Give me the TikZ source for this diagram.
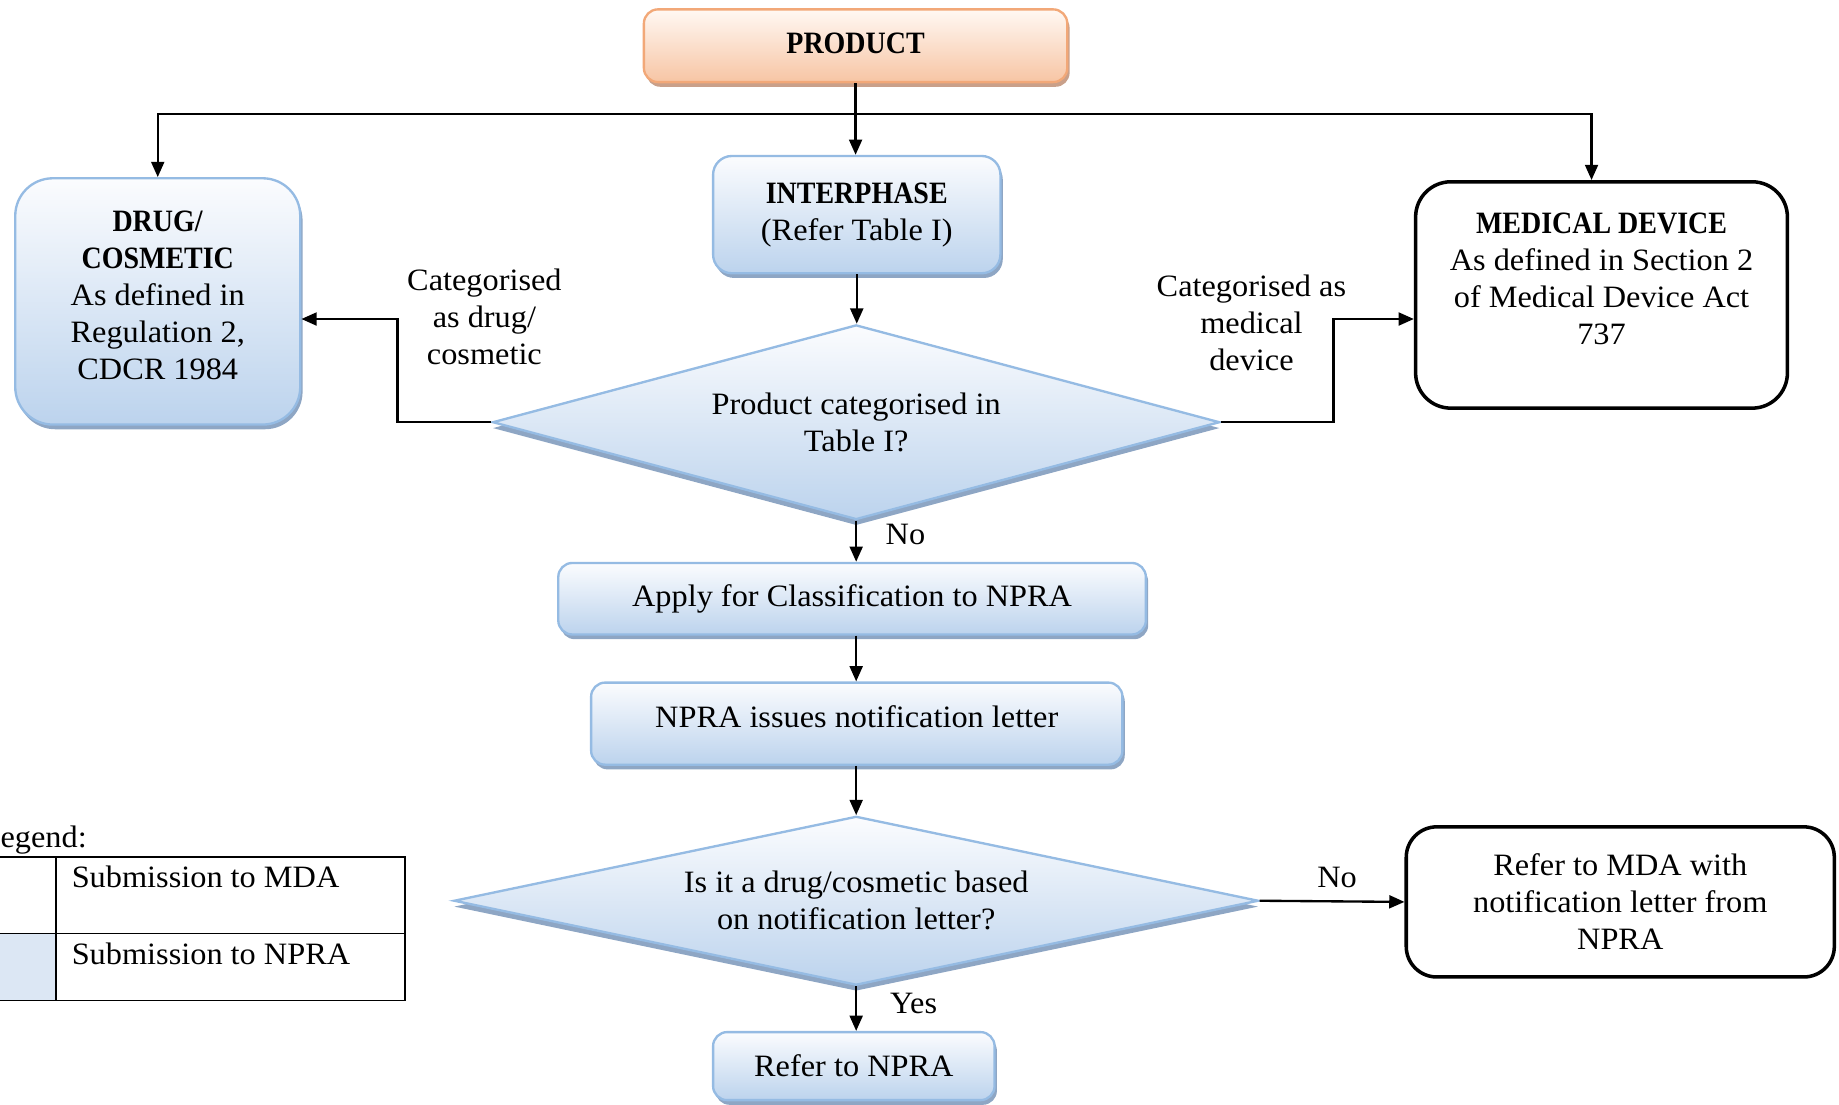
\documentclass[tikz,border=0pt]{standalone}
\usepackage{fontspec}
\setmainfont{Liberation Serif}[FakeStretch=1.04,BoldFeatures={FakeStretch=0.9}]
\usetikzlibrary{shapes.geometric,arrows.meta,shadows}
\definecolor{bluetop}{HTML}{FBFCFE}
\definecolor{bluebot}{HTML}{BCD3ED}
\definecolor{blueedge}{HTML}{95BBE3}
\definecolor{blueshadow}{HTML}{8EA6C4}
\definecolor{orangetop}{HTML}{FFF8F3}
\definecolor{orangebot}{HTML}{F7C5A4}
\definecolor{orangeedge}{HTML}{F2A878}
\definecolor{orangeshadow}{HTML}{C9A08A}
\definecolor{legendblue}{HTML}{DCE7F4}
\begin{document}
\begin{tikzpicture}[x=1pt,y=-1pt,
  every node/.style={font=\fontsize{26.5}{31.5}\selectfont},
  bluebox/.style={draw=blueedge, line width=2pt, top color=bluetop, bottom color=bluebot,
    drop shadow={shadow xshift=2pt,shadow yshift=-4pt,fill=blueshadow,opacity=1},
    align=center, inner sep=0pt},
  orangebox/.style={draw=orangeedge, line width=2pt, top color=orangetop, bottom color=orangebot,
    drop shadow={shadow xshift=2pt,shadow yshift=-4pt,fill=orangeshadow,opacity=1},
    align=center, inner sep=0pt, rounded corners=12pt},
  bluediamond/.style={diamond, draw=blueedge, line width=2pt, top color=bluetop, bottom color=bluebot,
    drop shadow={shadow xshift=0pt,shadow yshift=-5pt,fill=blueshadow,opacity=1},
    align=center, inner sep=0pt},
  blackbox/.style={draw=black, line width=3pt, fill=white, align=center, inner sep=0pt},
  txt/.style={align=center, inner sep=0pt},
  arr/.style={line width=2pt, -{Triangle[length=13pt,width=11pt]}}
]
\clip (0,0) rectangle (1568,942);

% nodes
\node[orangebox, minimum width=361pt, minimum height=62pt] (prod) at (729.5,39) {};
\node[txt] (prodt) at ([yshift=2pt]prod.center) {\textbf{PRODUCT}};
\node[bluebox, rounded corners=16pt, minimum width=245pt, minimum height=100pt] (inter) at (730.5,183)
  {\textbf{INTERPHASE}\\(Refer Table I)};
\node[bluebox, rounded corners=32pt, minimum width=243pt, minimum height=210pt] (drug) at (134.5,257) {};
\node[txt] (drugt) at ([yshift=5pt]drug.center)
  {\textbf{DRUG/}\\\textbf{COSMETIC}\\As defined in\\Regulation 2,\\CDCR 1984};
\node[blackbox, rounded corners=30pt, minimum width=317pt, minimum height=193pt] (med) at (1365.5,251.5) {};
\node[txt] (medt) at ([yshift=14pt]med.center)
  {\textbf{MEDICAL DEVICE}\\As defined in Section 2\\of Medical Device Act\\737};
\node[bluediamond, aspect=3.735, minimum width=620pt, minimum height=166pt] (d1) at (730,360)
  {Product categorised in\\Table I?};
\node[txt] (cat1) at (413,270) {Categorised\\as drug/\\cosmetic};
\node[txt] (cat2) at (1067,275) {Categorised as\\medical\\device};
\node[bluebox, rounded corners=12pt, minimum width=501pt, minimum height=61pt] (apply) at (726.5,510.5)
  {Apply for Classification to NPRA};
\node[bluebox, rounded corners=12pt, minimum width=453pt, minimum height=70pt] (npra) at (730.5,617) {};
\node[txt] (npratxt) at ([yshift=6pt]npra.center) {NPRA issues notification letter};
\node[bluediamond, aspect=4.76, minimum width=686pt, minimum height=144pt] (d2) at (730,768)
  {Is it a drug/cosmetic based\\on notification letter?};
\node[blackbox, rounded corners=26pt, minimum width=365pt, minimum height=128pt] (mda) at (1381.5,769)
  {Refer to MDA with\\notification letter from\\NPRA};
\node[bluebox, rounded corners=12pt, minimum width=240pt, minimum height=58pt] (refer) at (728,909)
  {Refer to NPRA};
\node[txt] (no1) at (772,456) {No};
\node[txt] (no2) at (1140,748) {No};
\node[txt] (yes) at (779,856) {Yes};

% connectors
\coordinate (jn) at (729.5,97);
\draw[arr] (prod.south) -- (prod.south |- inter.north);
\draw[arr] (jn) -| (drug.north);
\draw[arr] (jn) -| ([xshift=-8.5pt]med.north);
\draw[arr] (inter.south) -- (inter.south |- d1.north);
\draw[arr] (d1.west) -- ++(-80,0) |- ([yshift=-15pt]drug.east);
\draw[arr] (d1.east) -- ++(96,0) |- ([yshift=-20.5pt]med.west);
\draw[arr] (d1.south) -- (d1.south |- apply.north);
\draw[arr] (apply.south -| d1.south) -- (npra.north -| d1.south);
\draw[arr] (npra.south -| d1.south) -- (d2.north);
\draw[arr] (d2.east) -- (mda.west);
\draw[arr] (d2.south) -- (d2.south |- refer.north);

% legend
\node[anchor=base west, inner sep=0pt] (legend) at (-16.5,723) {Legend:};
\fill[legendblue] (-20,796) rectangle (48,853);
\draw[line width=1.5pt] (-20,731) rectangle (345,853);
\draw[line width=1.5pt] (-20,796) -- (345,796);
\draw[line width=1.5pt] (48,731) -- (48,853);
\node[anchor=west, inner sep=0pt] (l1) at (61,748) {Submission to MDA};
\node[anchor=west, inner sep=0pt] (l2) at (61,813) {Submission to NPRA};
\end{tikzpicture}
\end{document}
